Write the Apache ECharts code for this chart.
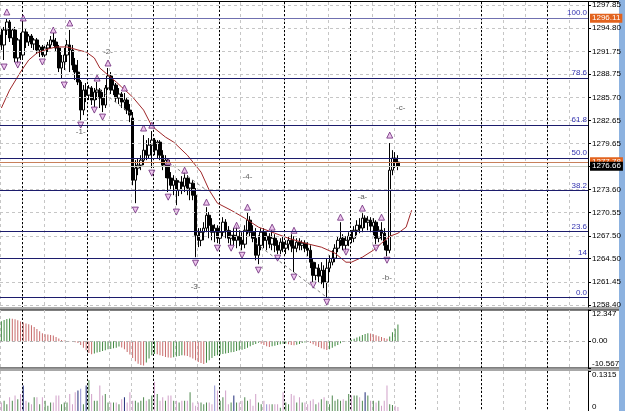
<!DOCTYPE html>
<html><head><meta charset="utf-8">
<script src="https://cdn.jsdelivr.net/npm/echarts@6/dist/echarts.min.js"></script>
<style>html,body{margin:0;padding:0;background:#fff}#c{width:625px;height:411px}</style>
</head><body><div id="c"></div>
<script>
// ---------- DATA ----------
const openP = [1293.90,1292.59,1294.56,1295.61,1293.51,1294.56,1290.88,1293.25,1291.27,1294.30,
1292.98,1293.77,1292.72,1293.25,1291.93,1292.33,1291.27,1292.19,1292.59,1293.25,
1292.98,1292.19,1289.56,1290.35,1291.27,1292.59,1291.93,1289.95,1289.03,1287.72,
1284.03,1286.66,1286.00,1286.93,1285.35,1286.40,1286.66,1285.61,1284.69,1286.93,
1288.51,1286.66,1287.32,1285.61,1286.14,1285.08,1285.35,1284.03,1282.98,1274.81,
1276.40,1276.79,1277.45,1278.76,1278.10,1279.42,1280.08,1278.76,1279.82,1278.10,
1276.79,1277.45,1275.09,1274.15,1274.81,1273.50,1274.56,1274.03,1275.09,1273.77,
1274.42,1272.84,1267.57,1266.91,1267.97,1268.51,1270.20,1268.89,1267.97,1268.51,
1267.18,1267.97,1269.29,1268.23,1267.18,1267.57,1266.91,1267.44,1266.91,1266.40,
1268.23,1269.55,1267.97,1267.18,1264.94,1266.25,1267.97,1266.91,1267.44,1266.40,
1267.18,1266.25,1265.60,1266.66,1265.87,1266.40,1266.91,1266.14,1265.87,1266.66,
1266.25,1266.53,1265.87,1265.60,1264.03,1262.30,1263.25,1262.19,1262.96,1261.40,
1263.25,1264.03,1264.56,1265.87,1266.91,1267.18,1266.25,1266.91,1267.44,1267.18,
1268.23,1268.89,1268.51,1269.82,1269.29,1269.55,1268.77,1269.29,1267.18,1268.23,
1267.84,1266.25,1265.60,1276.13,1277.71,1277.19];
const closeP = [1292.59,1294.56,1295.61,1293.51,1294.56,1290.88,1293.25,1291.27,1294.30,1292.98,
1293.77,1292.72,1293.25,1291.93,1292.33,1291.27,1292.19,1292.59,1293.25,1292.98,
1292.19,1289.56,1290.35,1291.27,1292.59,1291.93,1289.95,1289.03,1287.72,1284.03,
1286.66,1286.00,1286.93,1285.35,1286.40,1286.66,1285.61,1284.69,1286.93,1288.51,
1286.66,1287.32,1285.61,1286.14,1285.08,1285.35,1284.03,1283.37,1274.81,1276.40,
1276.79,1277.45,1278.76,1278.10,1279.42,1280.08,1278.76,1279.82,1278.10,1276.79,
1277.45,1275.09,1274.15,1274.81,1273.50,1274.56,1274.03,1275.09,1273.77,1274.42,
1272.84,1267.57,1266.91,1267.97,1268.51,1270.20,1268.89,1267.97,1268.51,1267.18,
1267.97,1269.29,1268.23,1267.18,1267.57,1266.91,1267.44,1266.91,1266.40,1268.23,
1269.55,1267.97,1267.18,1264.94,1266.25,1267.97,1266.91,1267.44,1266.40,1267.18,
1266.25,1265.60,1266.66,1265.87,1266.40,1266.91,1266.14,1265.87,1266.66,1266.25,
1266.53,1265.87,1265.60,1264.03,1262.30,1263.25,1262.19,1262.96,1261.40,1263.25,
1264.03,1264.56,1265.87,1266.91,1267.18,1266.25,1266.91,1267.44,1267.18,1268.23,
1268.89,1268.51,1269.82,1269.29,1269.55,1268.77,1269.29,1267.18,1268.23,1267.84,
1266.25,1265.60,1276.13,1277.71,1277.19,1276.66];
const highP = [1294.82,1294.96,1296.11,1295.88,1294.82,1294.96,1293.51,1294.17,1295.88,1294.82,
1294.03,1294.03,1293.51,1293.51,1292.59,1292.59,1292.46,1292.98,1293.77,1294.17,
1293.51,1292.59,1291.27,1292.19,1293.25,1294.56,1292.59,1290.88,1290.61,1287.98,
1287.32,1287.59,1287.32,1287.19,1286.93,1287.72,1286.93,1286.40,1287.32,1289.56,
1289.03,1287.98,1287.59,1286.93,1286.40,1286.27,1285.61,1284.82,1283.77,1277.45,
1277.71,1278.10,1280.74,1280.08,1280.35,1281.27,1280.35,1280.08,1280.08,1278.76,
1278.10,1277.71,1275.88,1275.47,1275.09,1274.81,1275.35,1275.88,1275.47,1275.09,
1274.81,1273.77,1268.51,1268.51,1269.29,1271.27,1270.62,1269.82,1269.03,1268.89,
1268.77,1269.95,1269.69,1268.77,1268.23,1268.51,1268.89,1268.23,1267.97,1268.89,
1270.62,1270.08,1268.89,1268.51,1267.57,1268.51,1268.51,1267.97,1267.84,1268.23,
1267.71,1266.91,1267.18,1267.44,1266.91,1267.44,1267.71,1267.44,1267.18,1267.18,
1266.91,1266.91,1266.66,1266.25,1264.56,1264.03,1263.77,1264.03,1263.62,1264.56,
1264.94,1265.60,1266.40,1267.44,1269.29,1267.71,1267.44,1267.97,1268.23,1268.77,
1269.55,1269.82,1270.48,1270.20,1270.08,1269.95,1269.82,1269.55,1268.77,1269.29,
1268.51,1266.91,1279.69,1278.76,1278.50,1278.10];
const lowP = [1291.93,1290.61,1293.90,1292.98,1292.59,1290.35,1290.09,1290.61,1290.88,1292.19,
1292.46,1292.19,1291.93,1291.40,1291.01,1291.01,1291.01,1291.67,1292.19,1292.46,
1291.67,1289.03,1288.24,1289.30,1290.35,1289.03,1289.30,1287.98,1287.32,1282.71,
1283.37,1285.08,1285.35,1284.69,1284.43,1285.35,1284.30,1283.77,1284.30,1286.66,
1286.14,1286.00,1285.08,1284.82,1284.30,1284.03,1283.51,1282.45,1274.15,1271.79,
1275.47,1276.13,1276.79,1277.45,1277.71,1276.40,1278.10,1277.71,1277.45,1276.13,
1275.09,1273.25,1273.50,1272.84,1271.52,1272.72,1272.98,1273.25,1272.84,1272.18,
1272.18,1264.69,1266.01,1266.14,1266.91,1267.97,1267.18,1266.91,1266.66,1266.53,
1266.66,1267.44,1267.18,1266.53,1266.25,1266.25,1265.87,1266.14,1265.60,1265.87,
1267.71,1267.44,1266.66,1264.28,1263.77,1265.60,1265.87,1265.60,1265.87,1265.60,
1265.35,1265.09,1265.09,1265.35,1265.09,1265.60,1265.35,1262.72,1265.35,1265.60,
1265.60,1265.35,1264.82,1263.25,1261.40,1261.65,1261.40,1261.14,1260.62,1259.41,
1262.72,1263.62,1264.03,1265.35,1266.14,1265.60,1265.35,1266.14,1266.53,1266.66,
1267.57,1267.84,1267.97,1268.51,1268.23,1267.97,1267.57,1266.40,1266.66,1266.91,
1265.60,1264.82,1265.21,1275.47,1276.40,1276.13];

// displaced moving average, read at selected bars
const maIdx = [0,3,7,10,13,17,20,24,28,31,34,36,39,42,44,48,52,55,60,63,68,73,76,79,84,89,94,100,105,111,117,122,126,128,132,136,139,142,145,148,150];
const maVal = [1284.30,1286.66,1289.03,1290.61,1291.53,1292.06,1292.33,1292.33,1291.93,1291.67,1290.88,1289.56,1288.64,1287.72,1287.06,1285.74,1284.03,1281.93,1280.48,1279.82,1278.10,1275.88,1273.50,1271.79,1270.86,1269.82,1268.64,1267.84,1267.18,1266.53,1266.01,1265.21,1264.03,1264.03,1264.69,1265.60,1266.53,1267.44,1267.84,1268.64,1270.86];

// fractal arrows
const upIdx = [2,8,19,25,35,39,45,52,55,61,67,75,86,90,99,107,124,132,139,142];
const upVal = [1296.93,1296.14,1294.56,1295.48,1288.24,1290.22,1286.93,1281.67,1282.05,1277.19,1276.13,1271.93,1268.89,1271.27,1268.64,1268.23,1269.95,1271.14,1269.95,1280.74];
const dnIdx = [1,6,15,23,29,34,37,49,55,61,64,71,79,84,88,94,101,107,114,119,126,137,141];
const dnVal = [1289.69,1289.95,1290.35,1287.32,1282.06,1284.03,1283.11,1270.88,1275.74,1272.58,1270.62,1263.90,1265.87,1265.87,1264.94,1262.98,1264.56,1262.06,1261.01,1258.77,1265.35,1265.87,1264.29];

// wave labels
const waveIdx = [29,39,71,90,132,141,146];
const waveVal = [1281.14,1291.67,1260.86,1275.22,1272.58,1261.93,1284.30];
const waveText = ['-1-','-2-','-3-','-4-','-a-','-b-','-c-'];

// dashed trend lines [idx1, price1, idx2, price2]
const trendLines = [[36,1286.66,47,1283.64],[61,1277.19,75,1273.50],[93,1266.53,119,1259.41]];

// fibonacci
const fibLevels = [0,14,23.6,38.2,50,61.8,78.6,100];
const fibLabels = ['0.0','14','23.6','38.2','50.0','61.8','78.6','100.0'];
const fibLow = 1259.41, fibHigh = 1296.11;

// price axis ticks and price tags
const priceTicks = [1258.40,1261.45,1264.50,1267.50,1270.55,1273.60,1276.60,1279.65,1282.65,1285.70,1288.75,1291.75,1294.80,1297.85];
const hLinePrice = 1277.23, hLineText = '1277.78';
const topTagText = '1296.11';
const lastPrice = 1276.66;

// oscillator histogram
const oscVals = [7.9,8.4,8.8,9.0,8.9,8.7,8.3,7.8,7.4,7.0,
6.7,6.3,5.6,4.8,4.0,3.2,2.8,2.7,2.5,2.3,
1.7,1.1,0.5,0.3,0.1,-0.05,-0.2,-0.4,-0.7,-1.5,
-2.6,-3.6,-4.6,-5.1,-4.8,-4.4,-4.2,-3.9,-3.6,-3.2,
-3.1,-2.8,-2.6,-2.1,-2.5,-3.2,-4.2,-5.2,-6.6,-7.9,
-8.9,-9.4,-9.6,-8.4,-6.8,-5.5,-5.0,-5.1,-5.5,-5.8,
-6.2,-6.4,-6.5,-6.3,-6.0,-5.8,-5.5,-5.6,-5.8,-6.3,
-6.8,-7.5,-8.2,-8.6,-9.0,-8.5,-7.5,-6.6,-5.8,-5.5,
-5.2,-5.0,-4.8,-4.6,-4.3,-4.2,-3.9,-3.6,-3.4,-3.1,
-2.6,-2.0,-1.5,-1.1,-0.6,-1.0,-1.5,-2.0,-2.3,-2.0,
-1.8,-1.5,-1.2,-1.0,-0.9,-1.2,-1.5,-1.6,-1.4,-1.1,
-0.7,-0.5,-0.3,-0.7,-1.2,-1.8,-2.3,-2.8,-3.2,-3.5,
-3.2,-2.6,-2.0,-1.5,-0.8,-0.3,-0.1,0.1,0.6,1.0,
1.5,1.9,2.5,2.9,3.2,3.1,2.8,2.4,2.0,1.7,
1.3,1.0,1.9,3.6,4.9,6.6];
const oscMin = -10.567, oscMax = 12.347;

// volume
const volVals = [0.028,0.034,0.022,0.045,0.034,0.051,0.039,0.056,0.084,0.034,0.028,0.022,0.045,0.045,0.022,0.045,0.034,0.017,0.028,0.028,0.051,
0.051,0.022,0.028,0.028,0.056,0.022,0.062,0.067,0.073,0.022,0.084,0.101,0.056,0.034,0.034,0.084,0.051,0.056,0.028,0.028,0.028,0.028,0.022,0.039,0.045,0.028,0.062,0.034,0.034,0.028,0.034,0.045,0.034,0.039,0.051,0.096,0.056,0.034,0.045,0.034,
0.051,0.051,0.034,0.034,0.028,0.034,0.034,0.034,0.062,0.028,0.017,0.028,0.028,0.022,0.028,0.028,0.022,0.084,0.067,0.034,0.045,0.067,0.022,0.028,0.051,0.028,0.028,0.034,0.045,0.034,0.039,0.017,0.056,0.028,0.022,0.034,0.022,0.022,0.022,0.022,
0.022,0.011,0.062,0.028,0.022,0.056,0.051,0.028,0.045,0.028,0.028,0.022,0.034,0.039,0.022,0.028,0.039,0.045,0.034,0.022,0.051,0.034,0.039,0.034,0.039,0.034,0.056,0.051,0.051,0.051,0.045,0.034,0.062,0.051,0.034,0.034,0.028,0.034,0.017,0.034,
0.084,0.022,0.020,0.017,0.013];
const volNavy = [8,28,31,45,85,133];
const volLav = [29,78,97];
const volMax = 0.1315;

const N_SLOTS = 215;
const cats = Array.from({length: N_SLOTS}, (_, i) => String(i));

// ---------- STYLE / BUILD ----------
const FONT = 'Liberation Sans';
const CLEAR = 'rgba(0,0,0,0)';
const chart = echarts.init(document.getElementById('c'), null, {renderer: 'canvas'});

const graySplit = {show: true, interval: (i) => i % 8 === 0, lineStyle: {color: '#c6c6c6', type: [3, 3], width: 1}};
const blackSplit = {show: true, interval: (i) => i % 24 === 8, lineStyle: {color: '#000', type: [2, 2], width: 1}};
function xa(g, split) {
  return {type: 'category', gridIndex: g, data: cats, boundaryGap: true,
    axisLine: {show: false}, axisTick: {show: false}, axisLabel: {show: false}, splitLine: split};
}

const gridLines = priceTicks.map(v => ({yAxis: v, lineStyle: {color: '#c6c6c6', type: [3, 3], width: 1}, label: {show: false}}));
const fibLines = fibLevels.map((l, k) => ({
  yAxis: fibLow + (fibHigh - fibLow) * l / 100,
  lineStyle: {color: l === 100 ? '#7070b0' : '#1c1c6c', width: 1, type: 'solid'},
  label: {show: true, position: 'insideEndTop', formatter: fibLabels[k], color: '#3434b0', fontSize: 8, fontFamily: FONT, distance: 1}
}));

const tagLabel = (text, bg) => ({show: true, position: 'end', formatter: text, backgroundColor: bg, color: '#fff',
  fontSize: 8, fontFamily: FONT, padding: [1, 2, 0, 2], distance: 2});
const tagLines = [
  {yAxis: fibHigh, lineStyle: {color: CLEAR, width: 1}, label: tagLabel(topTagText, '#e2631e')},
  {yAxis: hLinePrice, lineStyle: {color: '#c8805a', width: 1, type: 'solid'}, label: tagLabel(hLineText, '#e2631e')},
  {yAxis: lastPrice, lineStyle: {color: '#c8ccc0', width: 1, type: 'solid'}, label: tagLabel(lastPrice.toFixed(2), '#000')}
];

const series = [];
series.push({type: 'line', name: 'grid', xAxisIndex: 0, yAxisIndex: 0, data: closeP, symbol: 'none', silent: true, z: 1,
  lineStyle: {color: CLEAR},
  markLine: {silent: true, symbol: ['none', 'none'], animation: false, data: gridLines.concat(fibLines)}});
series.push({type: 'candlestick', xAxisIndex: 0, yAxisIndex: 0, z: 2, barWidth: 3,
  data: openP.map((o, i) => [o, closeP[i], lowP[i], highP[i]]),
  itemStyle: {color: '#ffffff', color0: '#000000', borderColor: '#000000', borderColor0: '#000000', borderWidth: 1}});
series.push({type: 'line', xAxisIndex: 0, yAxisIndex: 0, z: 3, symbol: 'none', silent: true,
  data: maIdx.map((x, k) => [x, maVal[k]]), lineStyle: {color: '#a0282a', width: 1}});
trendLines.forEach(t => series.push({type: 'line', xAxisIndex: 0, yAxisIndex: 0, z: 3, symbol: 'none', silent: true,
  data: [[t[0], t[1]], [t[2], t[3]]], lineStyle: {color: '#808080', width: 1, type: [3, 3]}}));
series.push({type: 'scatter', xAxisIndex: 0, yAxisIndex: 0, z: 4, symbol: 'triangle', symbolSize: [6, 6],
  data: upIdx.map((x, k) => [x, upVal[k]]), itemStyle: {color: '#e8b6e8', borderColor: '#6a2878', borderWidth: 1}});
series.push({type: 'scatter', xAxisIndex: 0, yAxisIndex: 0, z: 4, symbol: 'triangle', symbolRotate: 180, symbolSize: [6, 6],
  data: dnIdx.map((x, k) => [x, dnVal[k]]), itemStyle: {color: '#e8b6e8', borderColor: '#6a2878', borderWidth: 1}});
series.push({type: 'scatter', xAxisIndex: 0, yAxisIndex: 0, z: 4, symbolSize: 2, itemStyle: {color: CLEAR},
  data: waveIdx.map((x, k) => [x, waveVal[k]]),
  label: {show: true, position: 'inside', formatter: p => waveText[p.dataIndex], color: '#333333', fontSize: 8, fontFamily: FONT}});
series.push({type: 'line', xAxisIndex: 0, yAxisIndex: 0, z: 6, data: closeP, symbol: 'none', silent: true,
  lineStyle: {color: CLEAR},
  markLine: {silent: true, symbol: ['none', 'none'], animation: false, data: tagLines}});

series.push({type: 'bar', xAxisIndex: 2, yAxisIndex: 1, barWidth: 1, silent: true,
  data: oscVals.map((v, i) => ({value: v, itemStyle: {color: (i === 0 || v > oscVals[i - 1]) ? '#428a42' : '#c86a6a'}})),
  markLine: {silent: true, symbol: ['none', 'none'], animation: false, label: {show: false},
    data: [{yAxis: 0, lineStyle: {color: '#b4b4b4', type: [3, 3], width: 1}}]}});
series.push({type: 'bar', xAxisIndex: 4, yAxisIndex: 2, barWidth: 1, silent: true,
  data: volVals.map((v, i) => ({value: v, itemStyle: {color:
    volNavy.includes(i) ? '#1e2a78' : volLav.includes(i) ? '#9090d0' : (closeP[i] >= openP[i] ? '#4e884e' : '#d0a0c8')}}))});

const lblBase = {fontSize: 8, color: '#000', fontFamily: FONT, margin: 4};
const option = {
  animation: false,
  backgroundColor: '#ffffff',
  grid: [
    {left: 0, right: 37, top: 2, height: 305},
    {left: 0, right: 37, top: 310, height: 58},
    {left: 0, right: 37, top: 371, height: 40}
  ],
  xAxis: [xa(0, graySplit), xa(0, blackSplit), xa(1, graySplit), xa(1, blackSplit), xa(2, graySplit), xa(2, blackSplit)],
  yAxis: [
    {type: 'value', gridIndex: 0, position: 'right', min: 1258.14, max: 1298.24, scale: true,
      axisLine: {show: true, lineStyle: {color: '#000'}},
      axisTick: {show: true, length: 3, customValues: priceTicks, lineStyle: {color: '#000'}},
      axisLabel: Object.assign({customValues: priceTicks, formatter: v => v.toFixed(2)}, lblBase),
      splitLine: {show: false}},
    {type: 'value', gridIndex: 1, position: 'right', min: oscMin, max: oscMax,
      axisLine: {show: true, lineStyle: {color: '#000'}},
      axisTick: {show: true, length: 3, customValues: [oscMin, 0, oscMax], lineStyle: {color: '#000'}},
      axisLabel: Object.assign({customValues: [oscMin, 0, oscMax], formatter: v => v === 0 ? '0.00' : String(v),
        verticalAlignMaxLabel: 'top', verticalAlignMinLabel: 'bottom'}, lblBase),
      splitLine: {show: false}},
    {type: 'value', gridIndex: 2, position: 'right', min: 0, max: volMax,
      axisLine: {show: true, lineStyle: {color: '#000'}},
      axisTick: {show: true, length: 3, customValues: [0, volMax], lineStyle: {color: '#000'}},
      axisLabel: Object.assign({customValues: [0, volMax], formatter: v => String(v),
        verticalAlignMaxLabel: 'top', verticalAlignMinLabel: 'bottom'}, lblBase),
      splitLine: {show: false}}
  ],
  series: series,
  graphic: [
    {type: 'rect', shape: {x: 0, y: 1, width: 619, height: 1}, style: {fill: '#000'}, silent: true},
    {type: 'rect', shape: {x: 0, y: 307, width: 619, height: 2.5}, style: {fill: '#a8a8a8'}, silent: true},
    {type: 'rect', shape: {x: 0, y: 309.5, width: 619, height: 1}, style: {fill: '#000'}, silent: true},
    {type: 'rect', shape: {x: 0, y: 367.5, width: 619, height: 1}, style: {fill: '#000'}, silent: true},
    {type: 'rect', shape: {x: 0, y: 368.5, width: 619, height: 2.5}, style: {fill: '#a8a8a8'}, silent: true},
    {type: 'rect', shape: {x: 619, y: 0, width: 6, height: 411}, style: {fill: '#8cb2e0'}, silent: true}
  ]
};
chart.setOption(option);
</script>
</body></html>
